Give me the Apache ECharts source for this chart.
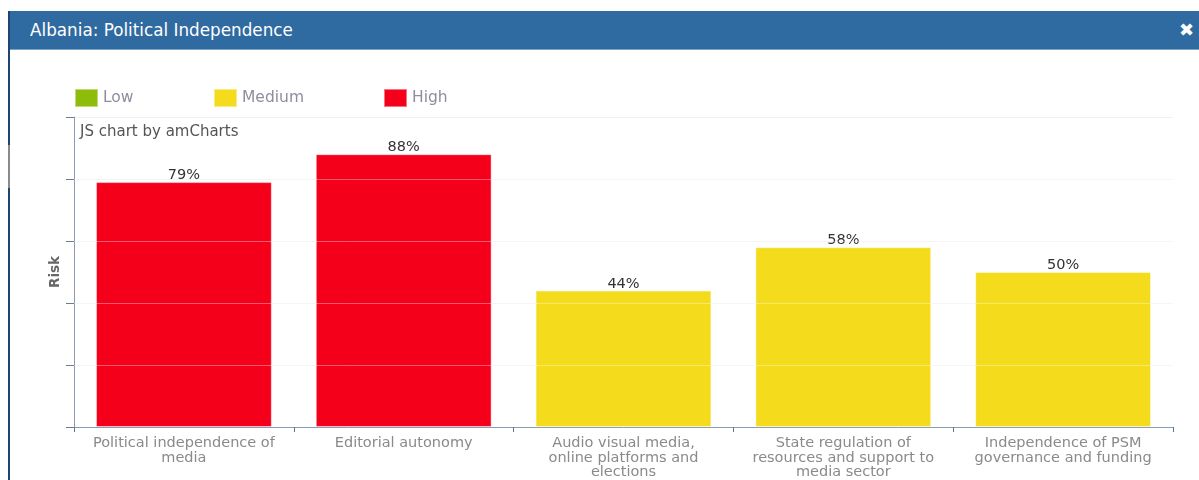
<!DOCTYPE html>
<html>
<head>
<meta charset="utf-8">
<script src="https://cdn.jsdelivr.net/npm/echarts@6/dist/echarts.min.js"></script>
<style>
  html, body { margin: 0; padding: 0; background: #fff; width: 1199px; height: 480px; overflow: hidden; }
  #frame { position: absolute; left: 8px; top: 11px; width: 1191px; height: 469px; border-left: 2px solid #1f4470; box-sizing: border-box; }
  #gray { position: absolute; left: 8px; top: 145px; width: 2px; height: 43px; background: #8a8a8a; }
  #header { position: absolute; left: 10px; top: 11px; width: 1189px; height: 39px; background: #2f6aa1; border-bottom: 1px solid #7fa3c7; box-sizing: border-box; }
  #title { position: absolute; left: 20px; top: 9px; color: #fff; font-family: "DejaVu Sans", sans-serif; font-size: 16.8px; }
  #close { position: absolute; right: 5px; top: 8px; color: #fff; font-family: "DejaVu Sans", sans-serif; font-size: 18px; font-weight: bold; }
  #chart { position: absolute; left: 0; top: 0; width: 1199px; height: 480px; }
</style>
</head>
<body>
<div id="chart"></div>
<div id="frame"></div>
<div id="gray"></div>
<div id="header"><div id="title">Albania: Political Independence</div><div id="close">✖</div></div>
<script>
const categories = [
  "Political independence of\nmedia",
  "Editorial autonomy",
  "Audio visual media,\nonline platforms and\nelections",
  "State regulation of\nresources and support to\nmedia sector",
  "Independence of PSM\ngovernance and funding"
];
const riskValues = [79, 88, 44, 58, 50];
const riskLevels = ["High", "High", "Medium", "Medium", "Medium"];
const levelNames = ["Low", "Medium", "High"];
const levelColors = { Low: "#8dbd0a", Medium: "#f4db1b", High: "#f5001a" };
const yTicks = [0, 20, 40, 60, 80, 100];

const chart = echarts.init(document.getElementById('chart'));

const series = levelNames.map(function (lvl) {
  return {
    name: lvl,
    type: 'bar',
    stack: 'risk',
    barCategoryGap: '20%',
    itemStyle: { color: levelColors[lvl], borderColor: 'rgba(255,255,255,0.45)', borderWidth: 1 },
    label: {
      show: true, position: 'top', formatter: '{c}%', distance: -1,
      color: '#333', fontFamily: 'DejaVu Sans', fontSize: 14.5
    },
    data: riskValues.map(function (v, i) { return riskLevels[i] === lvl ? v : null; })
  };
});
// light grid lines drawn over bars
series.push({
  type: 'line', data: [], silent: true,
  markLine: {
    silent: true, symbol: 'none', label: { show: false },
    lineStyle: { color: 'rgba(255,255,255,0.35)', type: 'solid', width: 1 },
    data: yTicks.slice(1, -1).map(function (t) { return { yAxis: t }; })
  }
});

const legendLefts = [74, 213, 383];
const option = {
  animation: false,
  backgroundColor: '#fff',
  legend: levelNames.map(function (lvl, i) {
    return {
      data: [lvl], left: legendLefts[i], top: 88, padding: 0,
      itemWidth: 23, itemHeight: 18, itemGap: 7,
      icon: 'rect',
      textStyle: { color: '#8e8e9e', fontFamily: 'DejaVu Sans', fontSize: 15.5 },
      selectedMode: false
    };
  }),
  graphic: [{
    type: 'text', left: 80, top: 125,
    style: { text: 'JS chart by amCharts', fill: '#555', font: '15px "DejaVu Sans"' }
  }],
  grid: { left: 74, right: 26, top: 117, bottom: 53, containLabel: false },
  xAxis: {
    type: 'category', data: categories,
    axisLine: { lineStyle: { color: '#8a9db3' } },
    axisTick: { show: true, length: 5, lineStyle: { color: '#5d7590' } },
    axisLabel: { color: '#8a8a8a', fontFamily: 'DejaVu Sans', fontSize: 14.5, lineHeight: 14.5, margin: 9, interval: 0 }
  },
  yAxis: {
    type: 'value', min: 0, max: 100, interval: 20,
    name: 'Risk', nameLocation: 'middle', nameGap: 12,
    nameTextStyle: { color: '#666', fontFamily: 'DejaVu Sans', fontSize: 13.5, fontWeight: 'bold' },
    axisLine: { show: true, lineStyle: { color: '#8a9db3' } },
    axisTick: { show: true, length: 8, lineStyle: { color: '#6a7d92' } },
    axisLabel: { show: false },
    splitLine: { lineStyle: { color: '#f0f0f0' } }
  },
  series: series
};
chart.setOption(option);
</script>
</body>
</html>
